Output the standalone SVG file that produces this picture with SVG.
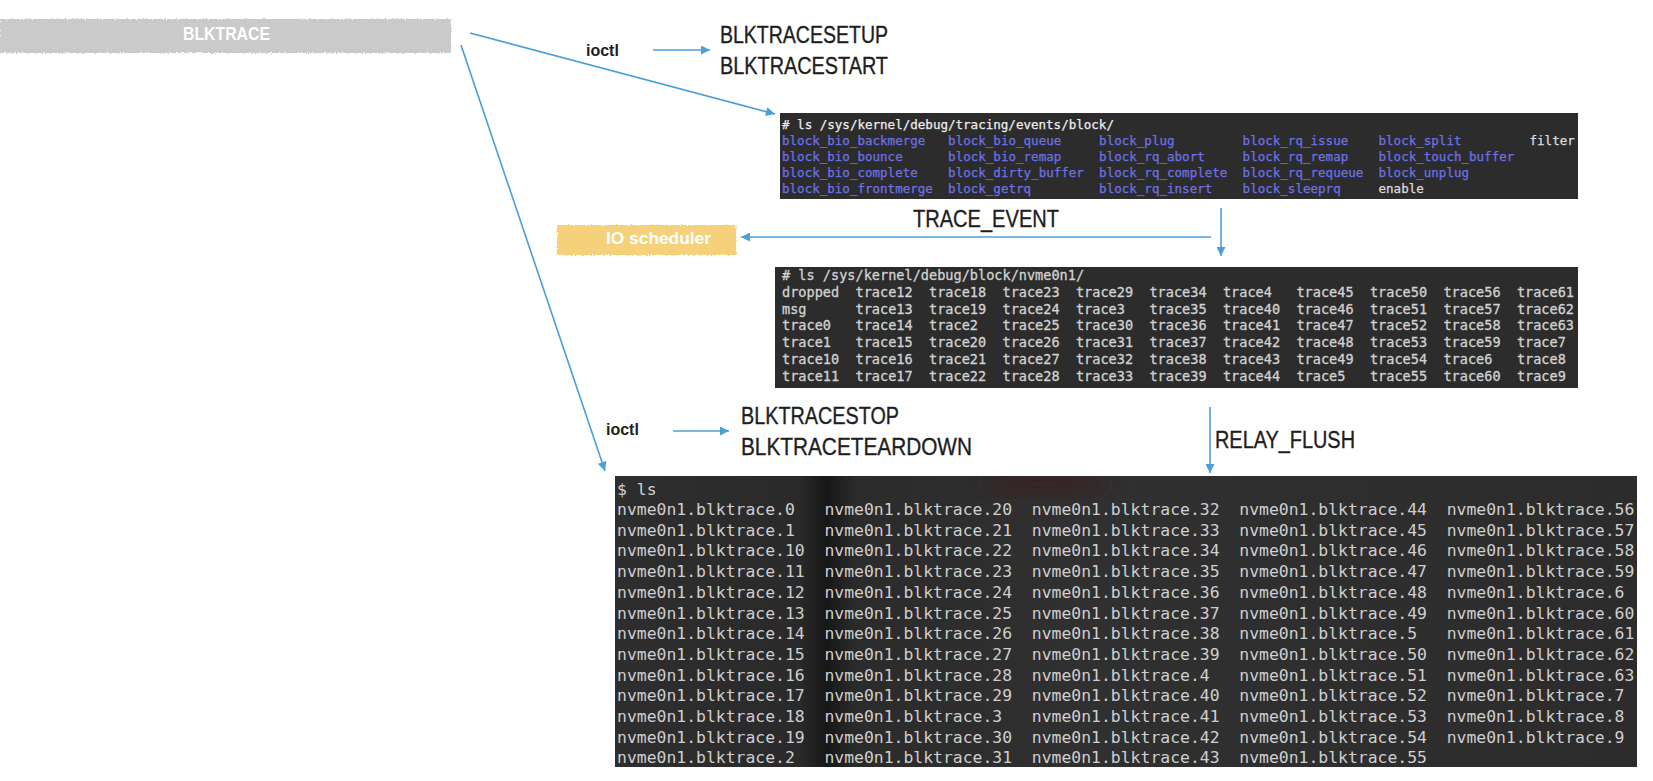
<svg xmlns="http://www.w3.org/2000/svg" width="1653" height="781" viewBox="0 0 1653 781">
<style>
.mono{font-family:"DejaVu Sans Mono","Liberation Mono",monospace;white-space:pre}
.t1{font-size:12.54px;stroke-width:0.25}
.t2{font-size:13.57px;fill:#d2d2d2;stroke:#d2d2d2;stroke-width:0.3}
.t3{font-size:16.41px;fill:#cfcfcf}
.blue{fill:#6c72e6;stroke:#6c72e6}
.wht{fill:#dcdcdc;stroke:#dcdcdc}
.cmd{fill:#ececec;stroke:#ececec}
.lbl{font-family:"Liberation Sans",Arial,sans-serif;font-size:23.5px;fill:#1e1e1e;stroke:#1e1e1e;stroke-width:0.35}
.ioctl{font-family:"Liberation Sans",Arial,sans-serif;font-weight:bold;font-size:16px;fill:#1e1e1e}
.tag{font-family:"Liberation Sans",Arial,sans-serif;font-weight:bold;fill:#ffffff}
.conn{stroke:#4b9fd6;stroke-width:1.6;fill:none;marker-end:url(#ah)}
.term{fill:#2c2c2c}
</style>
<defs>
<marker id="ah" viewBox="0 0 10 10" refX="10" refY="5" markerUnits="userSpaceOnUse" markerWidth="11" markerHeight="9" orient="auto">
<path d="M0,0 L10,5 L0,10 z" fill="#4b9fd6"/>
</marker>
<filter id="rough" x="-3%" y="-30%" width="106%" height="160%">
<feTurbulence type="fractalNoise" baseFrequency="0.8" numOctaves="2" seed="4"/>
<feDisplacementMap in="SourceGraphic" scale="3.5" xChannelSelector="R" yChannelSelector="G"/>
</filter>
<linearGradient id="bg3" x1="615" y1="0" x2="1637" y2="0" gradientUnits="userSpaceOnUse">
<stop offset="0" stop-color="#2e2e2e"/>
<stop offset="0.18" stop-color="#2a2a2a"/>
<stop offset="0.207" stop-color="#171717"/>
<stop offset="0.235" stop-color="#2b2b2b"/>
<stop offset="0.45" stop-color="#303030"/>
<stop offset="1" stop-color="#2c2c2c"/>
</linearGradient>
<filter id="blur"><feGaussianBlur stdDeviation="8"/></filter>
<clipPath id="clip3"><rect x="615" y="476" width="1022" height="291"/></clipPath>
</defs>

<g id="blktrace">
<rect x="0" y="19" width="451" height="34" fill="#c9cac9" filter="url(#rough)"/>
<text class="tag" x="183" y="40" font-size="18" textLength="87" lengthAdjust="spacingAndGlyphs">BLKTRACE</text>
</g>

<g id="setup-cmds">
<text class="lbl" x="720" y="43" textLength="168" lengthAdjust="spacingAndGlyphs">BLKTRACESETUP</text>
<text class="lbl" x="720" y="74" textLength="168" lengthAdjust="spacingAndGlyphs">BLKTRACESTART</text>
</g>

<g id="events-terminal">
<rect class="term" x="780" y="113" width="798" height="86"/>
<text class="mono t1 cmd" x="782" y="128.5"># ls /sys/kernel/debug/tracing/events/block/</text>
<text class="mono t1 blue" y="144.5"><tspan x="782">block_bio_backmerge</tspan><tspan x="948.1">block_bio_queue</tspan><tspan x="1099.1">block_plug</tspan><tspan x="1242.6">block_rq_issue</tspan><tspan x="1378.5">block_split</tspan><tspan x="1529.5" class="wht">filter</tspan></text>
<text class="mono t1 blue" y="160.5"><tspan x="782">block_bio_bounce</tspan><tspan x="948.1">block_bio_remap</tspan><tspan x="1099.1">block_rq_abort</tspan><tspan x="1242.6">block_rq_remap</tspan><tspan x="1378.5">block_touch_buffer</tspan></text>
<text class="mono t1 blue" y="176.5"><tspan x="782">block_bio_complete</tspan><tspan x="948.1">block_dirty_buffer</tspan><tspan x="1099.1">block_rq_complete</tspan><tspan x="1242.6">block_rq_requeue</tspan><tspan x="1378.5">block_unplug</tspan></text>
<text class="mono t1 blue" y="192.5"><tspan x="782">block_bio_frontmerge</tspan><tspan x="948.1">block_getrq</tspan><tspan x="1099.1">block_rq_insert</tspan><tspan x="1242.6">block_sleeprq</tspan><tspan x="1378.5" class="wht">enable</tspan></text>
</g>

<g id="io-scheduler">
<rect x="557" y="225" width="179" height="30" fill="#f5d17c" filter="url(#rough)"/>
<text class="tag" x="606" y="244" font-size="17" textLength="105" lengthAdjust="spacingAndGlyphs">IO scheduler</text>
</g>

<g id="debugfs-terminal">
<rect class="term" x="775" y="267" width="803" height="121"/>
<text class="mono t2" x="782" y="280" fill="#e6e6e6"># ls /sys/kernel/debug/block/nvme0n1/</text>
<text class="mono t2" x="782" y="296.8">dropped  trace12  trace18  trace23  trace29  trace34  trace4   trace45  trace50  trace56  trace61</text>
<text class="mono t2" x="782" y="313.6">msg      trace13  trace19  trace24  trace3   trace35  trace40  trace46  trace51  trace57  trace62</text>
<text class="mono t2" x="782" y="330.4">trace0   trace14  trace2   trace25  trace30  trace36  trace41  trace47  trace52  trace58  trace63</text>
<text class="mono t2" x="782" y="347.2">trace1   trace15  trace20  trace26  trace31  trace37  trace42  trace48  trace53  trace59  trace7</text>
<text class="mono t2" x="782" y="364">trace10  trace16  trace21  trace27  trace32  trace38  trace43  trace49  trace54  trace6   trace8</text>
<text class="mono t2" x="782" y="380.8">trace11  trace17  trace22  trace28  trace33  trace39  trace44  trace5   trace55  trace60  trace9</text>
</g>

<g id="stop-cmds">
<text class="lbl" x="741" y="424" textLength="158" lengthAdjust="spacingAndGlyphs">BLKTRACESTOP</text>
<text class="lbl" x="741" y="455" textLength="231" lengthAdjust="spacingAndGlyphs">BLKTRACETEARDOWN</text>
</g>

<g id="output-terminal">
<rect x="615" y="476" width="1022" height="291" fill="url(#bg3)"/>
<g clip-path="url(#clip3)">
<ellipse cx="1045" cy="484" rx="65" ry="12" fill="#3a2424" filter="url(#blur)" opacity="0.7"/>
</g>
<text class="mono t3" x="617" y="495" fill="#e8e8e8">$ ls</text>
<text class="mono t3" x="617" y="515">nvme0n1.blktrace.0   nvme0n1.blktrace.20  nvme0n1.blktrace.32  nvme0n1.blktrace.44  nvme0n1.blktrace.56</text>
<text class="mono t3" x="617" y="535.7">nvme0n1.blktrace.1   nvme0n1.blktrace.21  nvme0n1.blktrace.33  nvme0n1.blktrace.45  nvme0n1.blktrace.57</text>
<text class="mono t3" x="617" y="556.4">nvme0n1.blktrace.10  nvme0n1.blktrace.22  nvme0n1.blktrace.34  nvme0n1.blktrace.46  nvme0n1.blktrace.58</text>
<text class="mono t3" x="617" y="577.1">nvme0n1.blktrace.11  nvme0n1.blktrace.23  nvme0n1.blktrace.35  nvme0n1.blktrace.47  nvme0n1.blktrace.59</text>
<text class="mono t3" x="617" y="597.8">nvme0n1.blktrace.12  nvme0n1.blktrace.24  nvme0n1.blktrace.36  nvme0n1.blktrace.48  nvme0n1.blktrace.6</text>
<text class="mono t3" x="617" y="618.5">nvme0n1.blktrace.13  nvme0n1.blktrace.25  nvme0n1.blktrace.37  nvme0n1.blktrace.49  nvme0n1.blktrace.60</text>
<text class="mono t3" x="617" y="639.2">nvme0n1.blktrace.14  nvme0n1.blktrace.26  nvme0n1.blktrace.38  nvme0n1.blktrace.5   nvme0n1.blktrace.61</text>
<text class="mono t3" x="617" y="659.9">nvme0n1.blktrace.15  nvme0n1.blktrace.27  nvme0n1.blktrace.39  nvme0n1.blktrace.50  nvme0n1.blktrace.62</text>
<text class="mono t3" x="617" y="680.6">nvme0n1.blktrace.16  nvme0n1.blktrace.28  nvme0n1.blktrace.4   nvme0n1.blktrace.51  nvme0n1.blktrace.63</text>
<text class="mono t3" x="617" y="701.3">nvme0n1.blktrace.17  nvme0n1.blktrace.29  nvme0n1.blktrace.40  nvme0n1.blktrace.52  nvme0n1.blktrace.7</text>
<text class="mono t3" x="617" y="722">nvme0n1.blktrace.18  nvme0n1.blktrace.3   nvme0n1.blktrace.41  nvme0n1.blktrace.53  nvme0n1.blktrace.8</text>
<text class="mono t3" x="617" y="742.7">nvme0n1.blktrace.19  nvme0n1.blktrace.30  nvme0n1.blktrace.42  nvme0n1.blktrace.54  nvme0n1.blktrace.9</text>
<text class="mono t3" x="617" y="763.4">nvme0n1.blktrace.2   nvme0n1.blktrace.31  nvme0n1.blktrace.43  nvme0n1.blktrace.55</text>
</g>

<g id="connectors">
<line class="conn" x1="470" y1="33" x2="775" y2="114"/>
<line class="conn" x1="461" y1="45" x2="605" y2="471"/>
<line class="conn" x1="653" y1="50" x2="710" y2="50"/>
<line class="conn" x1="1211" y1="237" x2="741" y2="237"/>
<line class="conn" x1="1221" y1="208" x2="1221" y2="256"/>
<line class="conn" x1="673" y1="431" x2="729" y2="431"/>
<line class="conn" x1="1210" y1="407" x2="1210" y2="473"/>
<text class="ioctl" x="586" y="56">ioctl</text>
<text class="ioctl" x="606" y="435">ioctl</text>
<text class="lbl" x="913" y="227" textLength="146" lengthAdjust="spacingAndGlyphs">TRACE_EVENT</text>
<text class="lbl" x="1215" y="448" textLength="140" lengthAdjust="spacingAndGlyphs">RELAY_FLUSH</text>
</g>
</svg>
